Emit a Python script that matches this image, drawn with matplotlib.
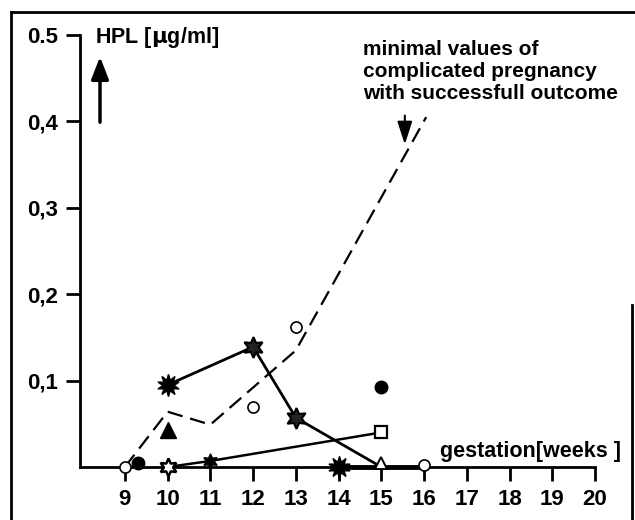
import matplotlib.pyplot as plt
from matplotlib.lines import Line2D
from matplotlib.patches import FancyArrowPatch

plt.rcParams['font.family'] = ['Liberation Sans', 'DejaVu Sans']
plt.rcParams['font.weight'] = 'bold'
plt.rcParams['mathtext.default'] = 'bf'

# ---- data ----
weeks = [9, 10, 11, 12, 13, 14, 15, 16, 17, 18, 19, 20]
ytick_vals = [0.1, 0.2, 0.3, 0.4, 0.5]
ytick_labels = ["0,1", "0,2", "0,3", "0,4", "0.5"]

# minimal values of complicated pregnancy (dashed)
min_x = [9, 10, 11, 13, 16.05]
min_y = [0.0, 0.064, 0.049, 0.135, 0.405]

# case with star markers
star_x = [10, 12, 13, 15]
star_y = [0.095, 0.139, 0.057, 0.0]

# low case rising to the square
low_x = [10, 11, 15]
low_y = [0.0, 0.007, 0.040]

# values lying on the baseline
base_x = [14, 16]
base_y = [0.0, 0.0]

open_circ_x = [9, 12, 13, 16]
open_circ_y = [0.0, 0.069, 0.162, 0.002]
fill_circ_x = [9.3, 15]
fill_circ_y = [0.005, 0.093]
fill_tri_x = [10]
fill_tri_y = [0.043]
open_tri_x = [15]
open_tri_y = [0.005]
square_x = [15]
square_y = [0.040]

fig = plt.figure(figsize=(6.35, 5.2), dpi=100)
ax = fig.add_axes([80/635, 53/520, 515/635, 432/520])

ax.plot(min_x, min_y, color='black', lw=1.6, ls=(0, (7, 3.5)), clip_on=False)

ax.plot(base_x, base_y, color='black', lw=3.5, clip_on=False, zorder=3)

ax.plot(low_x, low_y, color='black', lw=1.8, clip_on=False)
ax.plot(low_x[0], low_y[0], ls='none', marker=(6, 1, 0), ms=13, mfc='white',
        mec='black', mew=1.8, clip_on=False, zorder=4)
ax.plot(low_x[1], low_y[1], ls='none', marker=(6, 1, 0), ms=11, color='black',
        clip_on=False, zorder=4)
ax.plot(square_x, square_y, ls='none', marker='s', ms=9, mfc='white',
        mec='black', mew=1.6, clip_on=False, zorder=4)

ax.plot(star_x, star_y, color='black', lw=2.0, clip_on=False)
ax.plot(star_x[0], star_y[0], ls='none', marker=(10, 1, 0), ms=16, color='black',
        clip_on=False, zorder=4)
ax.plot(star_x[1:3], star_y[1:3], ls='none', marker=(6, 1, 0), ms=15, mfc='#222222',
        mec='black', mew=1.5, clip_on=False, zorder=4)
ax.plot(base_x[0], base_y[0], ls='none', marker=(10, 1, 0), ms=16, color='black',
        clip_on=False, zorder=4)

ax.plot(open_circ_x, open_circ_y, ls='none', marker='o', ms=8, mfc='white',
        mec='black', mew=1.2, clip_on=False, zorder=4)
ax.plot(fill_circ_x, fill_circ_y, ls='none', marker='o', ms=9, mfc='black',
        mec='black', clip_on=False, zorder=4)
ax.plot(fill_tri_x, fill_tri_y, ls='none', marker='^', ms=11, color='black',
        clip_on=False, zorder=4)
ax.plot(open_tri_x, open_tri_y, ls='none', marker='^', ms=9, mfc='white',
        mec='black', mew=1.4, clip_on=False, zorder=4)

ax.set_xlim(7.95, 20)
ax.set_ylim(0, 0.5)
ax.set_xticks(weeks)
ax.set_xticklabels([str(w) for w in weeks])
ax.set_yticks(ytick_vals)
ax.set_yticklabels(ytick_labels)

for s in ['top', 'right']:
    ax.spines[s].set_visible(False)
for s in ['left', 'bottom']:
    ax.spines[s].set_linewidth(2)
ax.tick_params(axis='both', direction='out', length=10, width=2, labelsize=16)
ax.tick_params(axis='x', pad=6)
ax.tick_params(axis='y', pad=6)

# annotation arrow pointing down onto the dashed line
ax.annotate('', xy=(15.55, 0.37), xytext=(15.55, 0.41),
            arrowprops=dict(arrowstyle='-|>,head_length=1.4,head_width=0.45',
                            color='black', lw=1.5))

fig.text(363/635, 480/520, "minimal values of\ncomplicated pregnancy\nwith successfull outcome",
         fontsize=15, va='top', ha='left', linespacing=1.2)
fig.text(95/635, 482/520, "HPL [$\\mu$g/ml]", fontsize=15.5, va='center', ha='left')
fig.text(440/635, 68/520, "gestation[weeks ]", fontsize=15.5, va='center', ha='left')

# vertical arrow below the HPL label
fig.add_artist(FancyArrowPatch(
    (100/635, 395/520), (100/635, 466/520), transform=fig.transFigure,
    arrowstyle='-|>,head_length=9,head_width=3.5', color='black', lw=2.5,
    mutation_scale=1.5))

# frame around the figure
fig.add_artist(Line2D([11/635, 11/635], [0, 508/520], color='black', lw=2))
fig.add_artist(Line2D([11/635, 1], [508/520, 508/520], color='black', lw=2))
fig.add_artist(Line2D([632/635, 632/635], [0, 215/520], color='black', lw=2))

fig.savefig('out.png', dpi=100)
